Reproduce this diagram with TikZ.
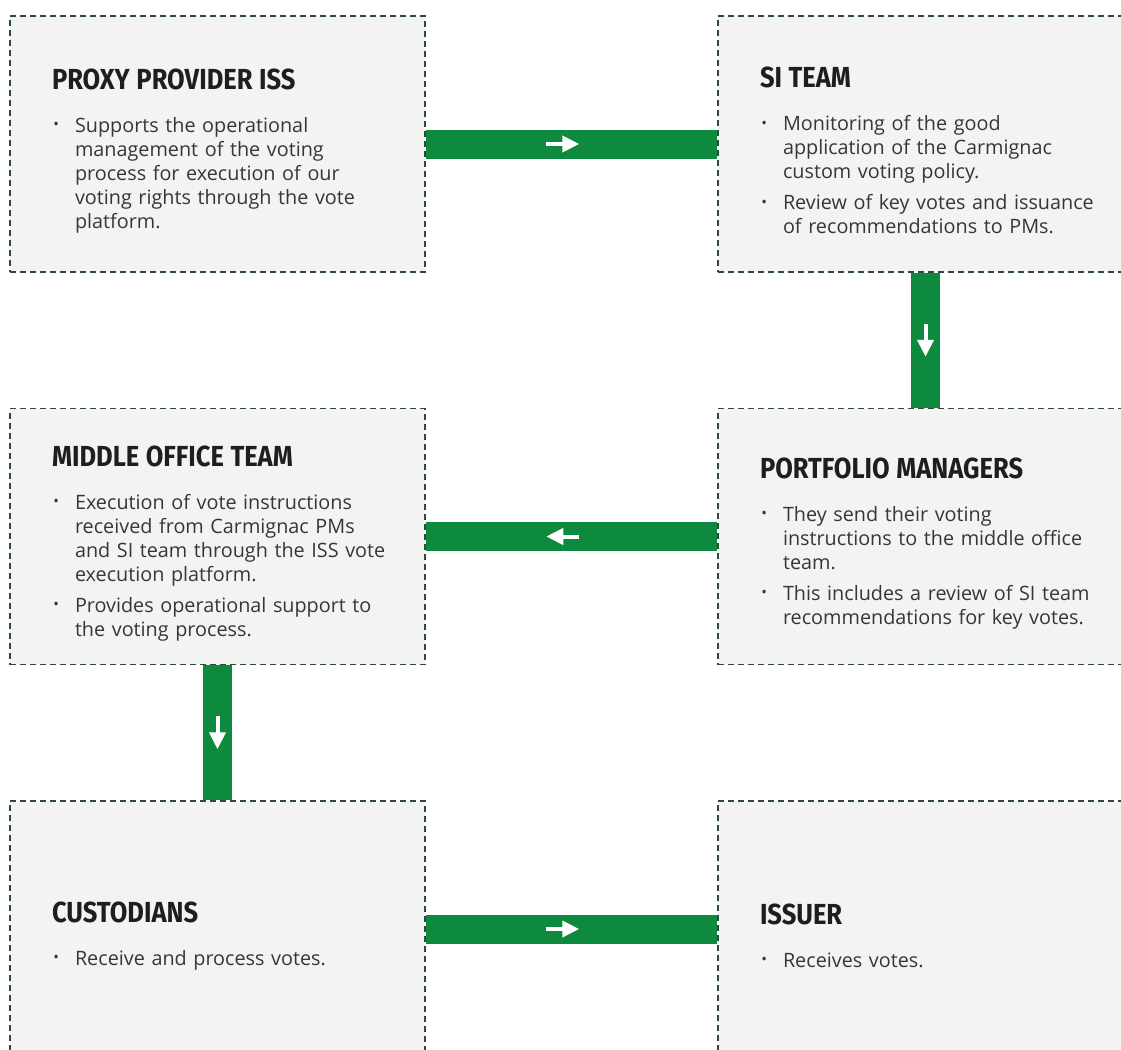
\documentclass[tikz,border=0pt]{standalone}
\usepackage{fontspec}
\setmainfont{Open Sans}
\newfontfamily\headfont[FakeStretch=0.88]{Fira Sans}
\usetikzlibrary{positioning, arrows.meta, decorations.markings, backgrounds}
\definecolor{boxfill}{HTML}{F3F4F2}
\definecolor{boxline}{HTML}{2E4A3C}
\definecolor{flowgreen}{HTML}{0E8A3E}
\definecolor{bodytext}{HTML}{363636}
\definecolor{headtext}{HTML}{1E1E1E}

% bullet list used inside the boxes
\newcommand\dotmark{\raisebox{2.5pt}{\fontsize{15}{15}\selectfont\textbullet}}
\newenvironment{points}{\begin{list}{\dotmark}{\setlength\leftmargin{23pt}\setlength\rightmargin{-40pt}%
  \setlength\labelwidth{6pt}\setlength\labelsep{16pt}%
  \setlength\itemsep{7pt}\setlength\parsep{0pt}\setlength\topsep{0pt}\setlength\partopsep{0pt}}}{\end{list}}
\newcommand\stagehead[1]{{\headfont\bfseries\fontsize{29}{30}\selectfont\color{headtext}\rule{0pt}{34pt}#1\par}\vspace{19pt}}

\begin{document}
\begin{tikzpicture}[x=1pt, y=-1pt,
    stage/.style = {draw = boxline, dash pattern = on 6pt off 4pt, line width = 1.3pt, fill = boxfill,
      minimum width = 415pt, minimum height = 256pt, text width = 331pt, inner xsep = 42pt, inner ysep = 0pt,
      align = left, text = bodytext, font = \fontsize{19.8}{24}\selectfont},
    flowbar/.style = {draw = flowgreen, line width = 29pt, postaction = {decorate},
      decoration = {markings, mark = at position #1 with
        {\draw [white, line width = 4pt, -{Triangle[length=17pt, width=16pt]}] (-16.5pt,0) -- (16.5pt,0);}}},
    flowbar/.default = 0.5
  ]
  \path [use as bounding box, clip] (0,0) rectangle (1121,1049);
  % left column
  \node [stage] (proxy) at (217.5,144) {\stagehead{PROXY PROVIDER ISS}
    \begin{points}
      \item Supports the operational\\ management of the voting\\ process for execution of our\\ voting rights through the vote\\ platform.
    \end{points}};
  \node [stage] (middle) at (217.5,536.5) {\stagehead{MIDDLE OFFICE TEAM}
    \begin{points}
      \item Execution of vote instructions\\ received from Carmignac PMs\\ and SI team through the ISS vote\\ execution platform.
      \item Provides operational support to\\ the voting process.
    \end{points}};
  \node [stage] (custodians) at (217.5,929) {\stagehead{CUSTODIANS}
    \begin{points}
      \item Receive and process votes.
    \end{points}};
  % right column
  \node [stage] (siteam) at (925.5,144) {\stagehead{SI TEAM}
    \begin{points}
      \item Monitoring of the good\\ application of the Carmignac\\ custom voting policy.
      \item Review of key votes and issuance\\ of recommendations to PMs.
    \end{points}};
  \node [stage] (pms) at (925.5,536.5) {\stagehead{PORTFOLIO MANAGERS}
    \begin{points}
      \item They send their voting\\ instructions to the middle office\\ team.
      \item This includes a review of SI team\\ recommendations for key votes.
    \end{points}};
  \node [stage] (issuer) at (925.5,929) {\stagehead{ISSUER}
    \begin{points}
      \item Receives votes.
    \end{points}};
  % green flow bars behind the boxes
  \begin{scope}[on background layer]
    \draw [flowbar=0.47] (proxy) -- (siteam);
    \draw [flowbar] (siteam) -- (pms);
    \draw [flowbar=0.53] (pms) -- (middle);
    \draw [flowbar] (middle) -- (custodians);
    \draw [flowbar=0.47] (custodians) -- (issuer);
  \end{scope}
\end{tikzpicture}
\end{document}
